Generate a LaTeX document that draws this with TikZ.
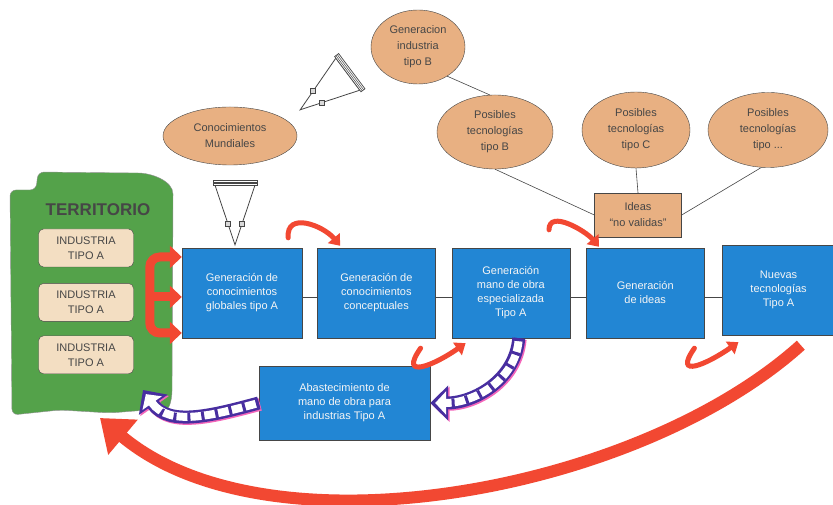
\documentclass[tikz,border=0pt]{standalone}
\usepackage{fontspec}
\setmainfont{Liberation Sans}
\usetikzlibrary{arrows.meta,calc,positioning,shapes.geometric}
\definecolor{BoxClr}{RGB}{34,134,212}
\definecolor{TanClr}{RGB}{232,176,130}
\definecolor{PaleClr}{RGB}{243,222,194}
\definecolor{TerrClr}{RGB}{84,162,74}
\definecolor{RedClr}{RGB}{242,72,50}
\definecolor{PurpClr}{RGB}{72,46,160}
\definecolor{EdgeClr}{RGB}{70,70,70}

\tikzset{
  bluebox/.style={draw=EdgeClr,fill=BoxClr,minimum width=118pt,minimum height=90pt,align=center,text=gray!8,font=\fontsize{11}{14}\selectfont},
  tanell/.style={ellipse,draw=EdgeClr,fill=TanClr,inner sep=0pt,align=center,text=EdgeClr,font=\fontsize{11}{16}\selectfont},
  indbox/.style={draw=EdgeClr,fill=PaleClr,rounded corners=5pt,minimum width=95pt,minimum height=38pt,align=center,text=EdgeClr,font=\fontsize{11}{15}\selectfont},
  thinline/.style={draw=EdgeClr,line width=0.6pt},
  redbar/.style={draw=RedClr,line width=9pt},
  redhook/.style={draw=RedClr,line width=5pt,line cap=round,-{Triangle[length=10pt,width=15pt]}},
  bigarc/.style={draw=RedClr,line width=12pt,-{Triangle[length=30pt,width=44pt]}}
}

\newcommand{\hollowarrow}[2]{%
  \coordinate (hb) at ($(#1)!5pt!(#2)$);
  \coordinate (hl) at ($(hb)!20pt!90:(#2)$);
  \coordinate (hr) at ($(hb)!20pt!-90:(#2)$);
  \filldraw[fill=white,draw=EdgeClr,line width=0.8pt] (hl) -- (#2) -- (hr) -- cycle;
  \coordinate (nl) at ($(hl)!0.64!(#2)$);
  \coordinate (nr) at ($(hr)!0.64!(#2)$);
  \filldraw[fill=gray!30,draw=EdgeClr,line width=0.5pt] ($(nl)+(-2.5,-2.5)$) rectangle ($(nl)+(2.5,2.5)$);
  \filldraw[fill=gray!30,draw=EdgeClr,line width=0.5pt] ($(nr)+(-2.5,-2.5)$) rectangle ($(nr)+(2.5,2.5)$);
  \filldraw[fill=white,draw=EdgeClr,line width=0.7pt] ($(#1)!22pt!90:(#2)$) -- ($(#1)!22pt!-90:(#2)$) -- ($(hb)!22pt!-90:(#2)$) -- ($(hb)!22pt!90:(#2)$) -- cycle;
  \foreach \k in {1.7pt,3.4pt}{
    \coordinate (hs) at ($(#1)!\k!(#2)$);
    \draw[EdgeClr,line width=0.5pt] ($(hs)!22pt!90:(#2)$) -- ($(hs)!22pt!-90:(#2)$);
  }
}

\newcommand{\purplearrow}[1]{%
  \draw[magenta!60,line width=13pt,-{Triangle[length=18pt,width=34pt]},transform canvas={shift={(1.3pt,-1.3pt)}}] #1;
  \draw[PurpClr,line width=13pt,-{Triangle[length=18pt,width=34pt]}] #1;
  \draw[white,line width=8pt,shorten <=2.5pt,shorten >=5pt,-{Triangle[length=11pt,width=23pt]}] #1;
  \draw[PurpClr,line width=9pt,dash pattern=on 3pt off 11pt,shorten >=20pt] #1;
}

\begin{document}
\begin{tikzpicture}[x=1pt,y=1pt]
\path[use as bounding box,fill=white] (0,0) rectangle (833,505);

\draw[draw=EdgeClr!60,fill=TerrClr,rounded corners=6pt] (10,315) -- (36,315) -- (38,333) -- (132,332) to[out=0,in=90] (173,305) -- (172,120) to[out=-90,in=0] (160,96) -- (110,92) -- (60,95) -- (12,90) -- cycle;
\node[font=\fontsize{17}{17}\selectfont\bfseries,text=EdgeClr] (ter) at (98,295) {TERRITORIO};
\node[indbox] (ind1) at (86,257) {INDUSTRIA\\TIPO A};
\node[indbox,below=16pt of ind1] (ind2) {INDUSTRIA\\TIPO A};
\node[indbox,below=14pt of ind2] (ind3) {INDUSTRIA\\TIPO A};

\node[bluebox,minimum width=120pt] (b1) at (242,212) {Generación de\\conocimientos\\globales tipo A};
\node[bluebox,right=15pt of b1] (b2) {Generación de\\conocimientos\\conceptuales};
\node[bluebox,right=16pt of b2] (b3) {Generación\\mano de obra\\especializada\\Tipo A};
\node[bluebox,right=16pt of b3] (b4) {Generación\\de ideas};
\node[bluebox,right=18pt of b4,yshift=3pt,minimum width=112pt] (b5) {Nuevas\\tecnologías\\Tipo A};
\node[bluebox,minimum width=171pt,minimum height=74pt] (b6) at (344.5,102) {Abastecimiento de\\mano de obra para\\industrias Tipo A};

\foreach \a/\b in {b1/b2,b2/b3,b3/b4,b4/b5}
  \draw[thinline] ([yshift=-4pt]\a.east) -- ([yshift=-4pt]\a.east -| \b.west);

\node[tanell,minimum width=134pt,minimum height=58pt] (conoc) at (230,369) {Conocimientos\\Mundiales};
\node[tanell,minimum width=94pt,minimum height=74pt] (indB) at (418,458) {Generacion\\industria\\tipo B};
\node[tanell,minimum width=116pt,minimum height=74pt] (posB) at (495,373) {Posibles\\tecnologías\\tipo B};
\node[tanell,minimum width=108pt,minimum height=76pt] (posC) at (636,375) {Posibles\\tecnologías\\tipo C};
\node[tanell,minimum width=120pt,minimum height=75pt] (posX) at (768,375) {Posibles\\tecnologías\\tipo ...};
\node[draw=EdgeClr,fill=TanClr,minimum width=87pt,minimum height=44pt,align=center,text=EdgeClr,font=\fontsize{11}{16}\selectfont] (ideas) at (638,290) {Ideas\\“no validas”};

\draw[thinline] (indB.-45) -- (posB.98);
\draw[thinline] (posB.south) -- (ideas.west);
\draw[thinline] (posC.south) -- (ideas.north);
\draw[thinline] (posX.-100) -- (ideas.east);

\coordinate (a1b) at ($(indB.south -| indB.west)+(-19,13)$);
\coordinate (a1t) at ($(conoc.north -| conoc.east)+(3,-3)$);
\coordinate (a2b) at ([xshift=5pt,yshift=-15pt]conoc.south);
\coordinate (a2t) at ($(b1.north -| a2b)+(0,3)$);
\hollowarrow{a1b}{a1t}
\hollowarrow{a2b}{a2t}

\draw[redbar,rounded corners=10pt,{Triangle[length=12pt,width=22pt]}-{Triangle[length=12pt,width=22pt]}] ([yshift=36pt]b1.west) -- ++(-32,0) |- ([yshift=-40pt]b1.west);
\coordinate (ebar) at ([xshift=-32pt,yshift=-4pt]b1.west);
\draw[redbar,-{Triangle[length=12pt,width=22pt]}] (ebar) -- (ebar -| b1.west);

\draw[redhook] ([xshift=-14pt,yshift=10pt]b1.north east) to[out=95,in=130,looseness=1.3] ([xshift=23pt,yshift=2pt]b2.north west);
\draw[redhook] ([xshift=-21pt,yshift=18pt]b3.north east) to[out=90,in=130] ([xshift=13pt,yshift=1pt]b4.north west);
\draw[redhook] ([xshift=-15pt,yshift=-10pt]b2.south east) to[out=235,in=215,looseness=2.2] ([xshift=14pt,yshift=-5pt]b3.south west);
\draw[redhook] ([xshift=-10pt,yshift=-10pt]b4.south east) to[out=235,in=215,looseness=2.2] ([xshift=16pt,yshift=-7pt]b5.south west);

\coordinate (terin) at (143,115);
\purplearrow{([xshift=8pt]b3.south) to[out=-95,in=0] (b6.east)}
\purplearrow{(b6.west) to[out=195,in=-55] (terin)}

\coordinate (terbot) at (100,87);
\draw[bigarc] ([xshift=-34pt,yshift=-10pt]b5.south east) to[out=-138,in=-40,looseness=0.8] (terbot);

\end{tikzpicture}
\end{document}
